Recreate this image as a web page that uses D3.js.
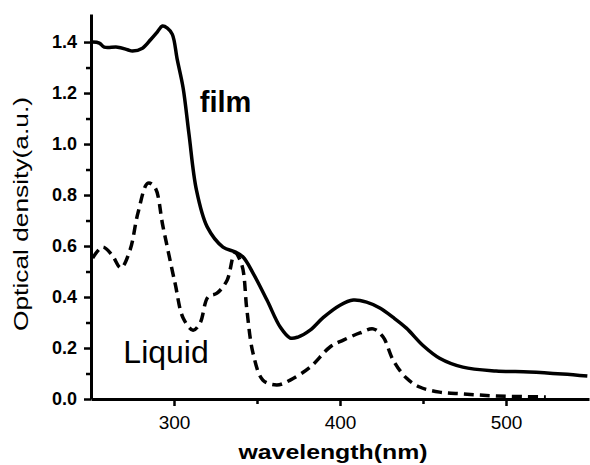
<!DOCTYPE html>
<html>
<head>
<meta charset="utf-8">
<script src="https://cdnjs.cloudflare.com/ajax/libs/d3/7.8.5/d3.min.js"></script>
<style>
  body { margin: 0; background: #fff; }
  text { font-family: "Liberation Sans", Arial, sans-serif; fill: #000; }
</style>
</head>
<body>
<div id="chart"></div>
<script>
// film spectrum (solid)
var filmWave = [251, 255, 258, 266, 272, 275, 281, 286, 290, 293, 296, 299, 302, 305.5, 309, 313.5, 320, 329.5, 336.7, 341.6, 347.6, 356, 364, 370, 374.7, 382, 390, 400, 408, 416, 424, 432, 440, 450, 460, 474, 494, 514, 534, 549]
var filmOD = [1.40, 1.396, 1.38, 1.38, 1.37, 1.365, 1.376, 1.41, 1.44, 1.463, 1.455, 1.43, 1.33, 1.22, 1.04, 0.82, 0.675, 0.596, 0.577, 0.557, 0.494, 0.388, 0.282, 0.239, 0.243, 0.27, 0.32, 0.368, 0.388, 0.38, 0.357, 0.32, 0.278, 0.21, 0.16, 0.125, 0.11, 0.106, 0.098, 0.09]

// liquid spectrum (dashed)
var liquidWave = [251, 257, 262.6, 268, 273.5, 278.3, 284.3, 288.5, 293.4, 300.6, 305.5, 311.5, 315.7, 320.5, 325.9, 332, 336.7, 340.9, 343.9, 347.6, 353.6, 362, 370, 382, 394, 402, 412, 420, 426, 432, 440, 448, 460, 474, 494, 524]
var liquidOD = [0.553, 0.596, 0.565, 0.514, 0.584, 0.73, 0.847, 0.83, 0.675, 0.455, 0.318, 0.27, 0.298, 0.40, 0.415, 0.466, 0.573, 0.525, 0.35, 0.18, 0.074, 0.055, 0.074, 0.125, 0.204, 0.231, 0.259, 0.275, 0.243, 0.153, 0.082, 0.047, 0.027, 0.02, 0.012, 0.008]

var xTicks = [300, 400, 500]
var xMinor = [350, 450]
var yTicks = [0, 0.2, 0.4, 0.6, 0.8, 1.0, 1.2, 1.4]
var yMinor = [0.1, 0.3, 0.5, 0.7, 0.9, 1.1, 1.3]

var svgWidth = 590
var svgHeight = 465
var margin = {top: 14, right: 1, bottom: 66, left: 91}
var width = svgWidth - margin.left - margin.right
var height = svgHeight - margin.top - margin.bottom

var svg = d3.select('#chart')
    .append('svg')
    .attr('width', svgWidth)
    .attr('height', svgHeight)

var chartGroup = svg.append('g')
    .attr('transform', `translate(${margin.left}, ${margin.top})`)

var xScale = d3.scaleLinear().domain([250, 550]).range([0, width])
var yScale = d3.scaleLinear().domain([0, 1.51]).range([height, 0])

// minor ticks first
chartGroup.append('g')
    .attr('transform', `translate(0, ${height})`)
    .call(d3.axisBottom(xScale).tickValues(xMinor).tickSize(5).tickSizeOuter(0).tickFormat(''))
    .call(g => g.select('.domain').remove())
    .selectAll('line').attr('stroke-width', 2.5)

chartGroup.append('g')
    .call(d3.axisLeft(yScale).tickValues(yMinor).tickSize(5).tickSizeOuter(0).tickFormat(''))
    .call(g => g.select('.domain').remove())
    .selectAll('line').attr('stroke-width', 2.5)

// major axes
var xAxis = chartGroup.append('g')
    .attr('transform', `translate(0, ${height})`)
    .call(d3.axisBottom(xScale).tickValues(xTicks).tickSize(7).tickSizeOuter(0).tickPadding(6))
xAxis.select('.domain').attr('stroke-width', 3)
xAxis.selectAll('line').attr('stroke-width', 2.5)
xAxis.selectAll('text')
    .style('font-size', '19px')
    .attr('dy', '0.92em')

var yAxis = chartGroup.append('g')
    .call(d3.axisLeft(yScale).tickValues(yTicks).tickSize(7).tickSizeOuter(0).tickPadding(7).tickFormat(d3.format('.1f')))
yAxis.select('.domain').attr('stroke-width', 3)
yAxis.selectAll('line').attr('stroke-width', 2.5)
yAxis.selectAll('text')
    .style('font-size', '18px')
    .style('font-weight', 'bold')

// the two curves
var line = d3.line()
    .x(d => xScale(d[0]))
    .y(d => yScale(d[1]))
    .curve(d3.curveCatmullRom.alpha(0.5))

chartGroup.append('path')
    .datum(liquidWave.map((w, i) => [w, liquidOD[i]]))
    .attr('d', line)
    .attr('fill', 'none')
    .attr('stroke', '#000')
    .attr('stroke-width', 3.5)
    .attr('stroke-dasharray', '10,6')

chartGroup.append('path')
    .datum(filmWave.map((w, i) => [w, filmOD[i]]))
    .attr('d', line)
    .attr('fill', 'none')
    .attr('stroke', '#000')
    .attr('stroke-width', 3.5)
    .attr('stroke-linejoin', 'round')

// curve labels
chartGroup.append('text')
    .attr('x', xScale(315.5))
    .attr('y', yScale(1.124))
    .style('font-size', '29px')
    .style('font-weight', 'bold')
    .text('film')

chartGroup.append('text')
    .attr('x', xScale(269.5))
    .attr('y', yScale(0.141))
    .style('font-size', '32px')
    .text('Liquid')

// axis titles
svg.append('text')
    .attr('transform', 'translate(28, 214) rotate(-90)')
    .attr('text-anchor', 'middle')
    .attr('textLength', 234)
    .attr('lengthAdjust', 'spacingAndGlyphs')
    .style('font-size', '21px')
    .text('Optical density(a.u.)')

svg.append('text')
    .attr('x', 333)
    .attr('y', 459)
    .attr('text-anchor', 'middle')
    .attr('textLength', 189)
    .attr('lengthAdjust', 'spacingAndGlyphs')
    .style('font-size', '21px')
    .style('font-weight', 'bold')
    .text('wavelength(nm)')
</script>
</body>
</html>
